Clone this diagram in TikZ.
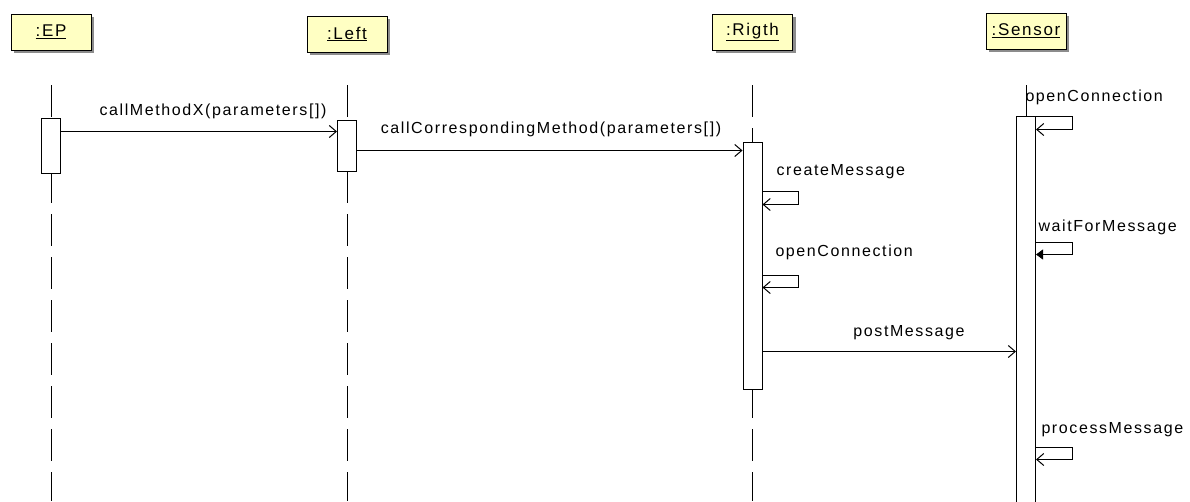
\documentclass[tikz,border=0pt]{standalone}
\usepackage{fontspec}
\setmainfont{Liberation Sans}[LetterSpace=10]
\usetikzlibrary{arrows.meta,shadows}
\definecolor{objyellow}{RGB}{255,255,195}
\tikzstyle{object} = [draw=black, fill=objyellow, minimum width=80pt, minimum height=36pt,
font=\fontsize{17}{20}\selectfont,
drop shadow={shadow xshift=3pt, shadow yshift=-3pt, fill=black!45, opacity=1}]
\tikzstyle{act} = [draw=black, fill=white, minimum width=19pt, inner sep=0pt]
\tikzstyle{lifeline} = [dash pattern=on 32pt off 11pt]
\tikzstyle{call} = [-{Straight Barb[length=7pt, width=12pt]}]
\tikzstyle{waitcall} = [-{Triangle[length=7pt, width=10pt]}]
\tikzstyle{msg} = [anchor=base, inner sep=0pt]
\tikzstyle{selfmsg} = [anchor=base west, inner sep=0pt]

\begin{document}
\begin{tikzpicture}[x=1pt, y=-1pt, line width=1pt, font=\fontsize{16}{19}\selectfont]
    \useasboundingbox (0,0) rectangle (1190,501);
    % objects
    \node[object] (ep) at (51,32) {\underline{:EP}};
    \node[object] (left) at (347,34) {\underline{:Left}};
    \node[object] (rigth) at (752.5,32) {\underline{:Rigth}};
    \node[object] (sensor) at (1026,31) {\underline{:Sensor}};
    \foreach \o in {ep,left,rigth,sensor}
        \draw[lifeline] (\o.south |- 0,85) -- (\o.south |- 0,501);
    % activations
    \node[act, minimum height=55pt] (epact) at (51,145.5) {};
    \node[act, minimum height=51pt] (leftact) at (347,145.5) {};
    \node[act, minimum height=247pt] (rigthact) at (752.5,265.5) {};
    \node[act, minimum height=386pt] (sensoract) at (1026,309) {};
    % messages
    \draw[call] ([yshift=-14pt]epact.north east) -- ([yshift=-12pt]leftact.north west);
    \node[msg] (m1) at (213,115) {callMethodX(parameters[])};
    \draw[call] ([yshift=-31pt]leftact.north east) -- ([yshift=-9pt]rigthact.north west);
    \node[msg] (m2) at (551,133) {callCorrespondingMethod(parameters[])};
    \draw[call] ([yshift=-50pt]rigthact.north east) -- ++(36,0) -- ++(0,13) -- ([yshift=-63pt]rigthact.north east);
    \node[selfmsg] (m3) at (776,175) {createMessage};
    \draw[call] ([yshift=-134pt]rigthact.north east) -- ++(36,0) -- ++(0,12) -- ([yshift=-146pt]rigthact.north east);
    \node[selfmsg] (m4) at (775,256) {openConnection};
    \draw[call] ([yshift=-210pt]rigthact.north east) -- ([yshift=-236pt]sensoract.north west);
    \node[msg] (m5) at (909,336) {postMessage};
    \draw[call] ([yshift=-1pt]sensoract.north east) -- ++(36,0) -- ++(0,13) -- ([yshift=-14pt]sensoract.north east);
    \node[selfmsg] (m6) at (1025,101) {openConnection};
    \draw[waitcall] ([yshift=-127pt]sensoract.north east) -- ++(36,0) -- ++(0,12) -- ([yshift=-139pt]sensoract.north east);
    \node[selfmsg] (m7) at (1038,231) {waitForMessage};
    \draw[call] ([yshift=-332pt]sensoract.north east) -- ++(36,0) -- ++(0,12) -- ([yshift=-344pt]sensoract.north east);
    \node[selfmsg] (m8) at (1041,433) {processMessage};
\end{tikzpicture}
\end{document}
